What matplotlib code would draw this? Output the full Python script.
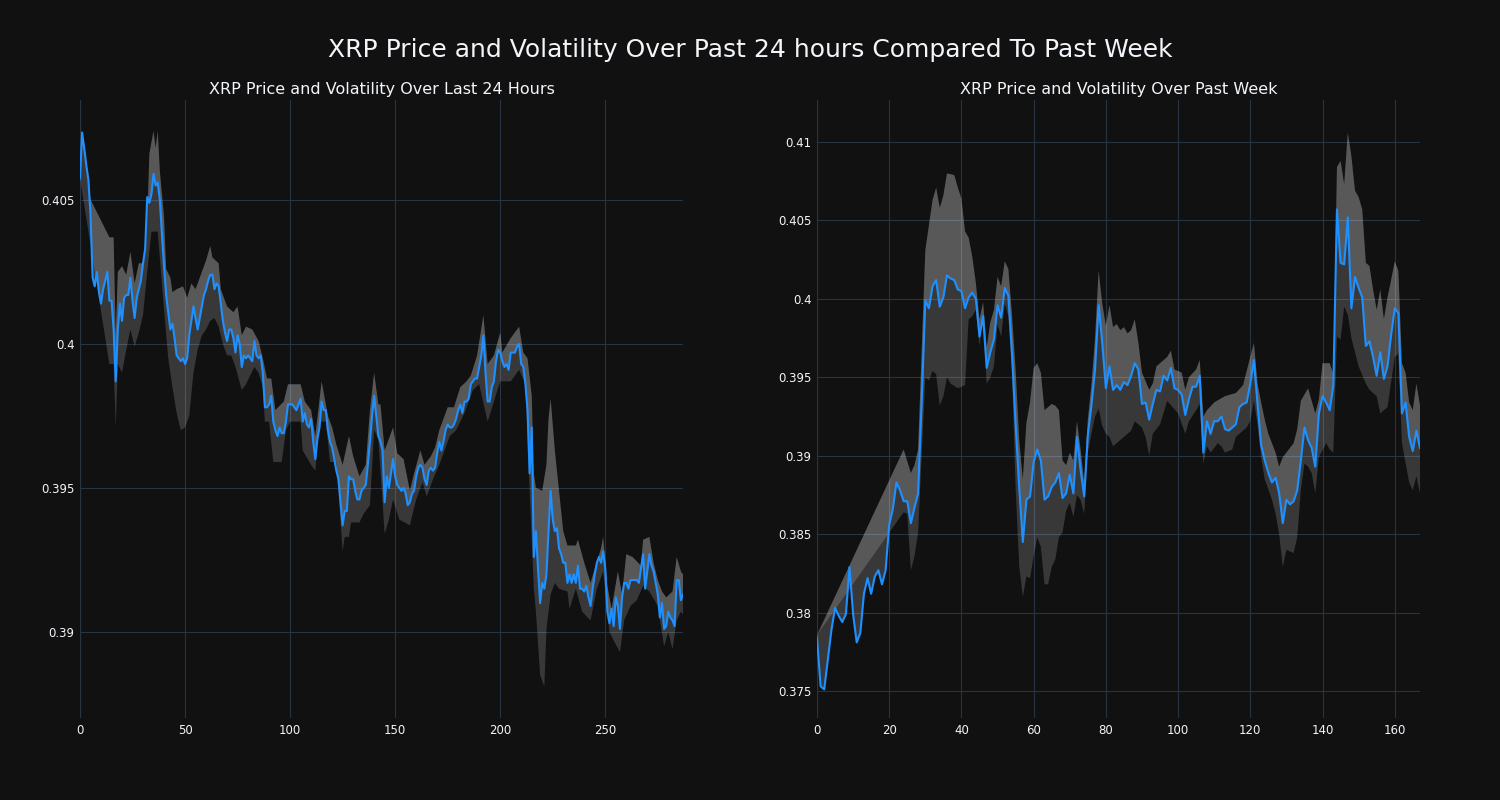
import numpy as np
import matplotlib.pyplot as plt

# ---- last 24 hours (5 min steps) ----
day_price = [
    0.40575, 0.40734, 0.4068, 0.4062, 0.4057, 0.4045, 0.4023, 0.4020, 0.4025, 0.4018,
    0.4014, 0.4019, 0.4022, 0.4025, 0.4015, 0.4015, 0.4005, 0.3987, 0.4005, 0.4014,
    0.4008, 0.4016, 0.4017, 0.4017, 0.4023, 0.4015, 0.4009, 0.4016, 0.4019, 0.4022,
    0.4028, 0.4033, 0.4051, 0.4049, 0.4052, 0.4059, 0.4055, 0.4056, 0.4050, 0.4038,
    0.4027, 0.4017, 0.4011, 0.4005, 0.4007, 0.4002, 0.3996, 0.3995, 0.3994, 0.3995,
    0.3993, 0.3995, 0.4003, 0.4008, 0.4013, 0.4009, 0.4005, 0.4009, 0.4013, 0.4017,
    0.4019, 0.4022, 0.4024, 0.4024, 0.4019, 0.4021, 0.4020, 0.4014, 0.4008, 0.4004,
    0.4001, 0.4005, 0.4005, 0.4002, 0.3997, 0.4003, 0.4000, 0.3992, 0.3996, 0.3995,
    0.3996, 0.3995, 0.3994, 0.4001, 0.3996, 0.3995, 0.3996, 0.3990, 0.3978, 0.3978,
    0.3979, 0.3982, 0.3973, 0.3970, 0.3968, 0.3971, 0.3969, 0.3969, 0.3973, 0.3979,
    0.3979, 0.3979, 0.3978, 0.3977, 0.3979, 0.3981, 0.3973, 0.3976, 0.3972, 0.3971,
    0.3974, 0.3966, 0.3960, 0.3967, 0.3971, 0.3980, 0.3977, 0.3977, 0.3970, 0.3966,
    0.3964, 0.3960, 0.3956, 0.3953, 0.3945, 0.3937, 0.3942, 0.3942, 0.3954, 0.3953,
    0.3953, 0.3949, 0.3946, 0.3946, 0.3949, 0.3950, 0.3951, 0.3958, 0.3966, 0.3975,
    0.3982, 0.3975, 0.3968, 0.3966, 0.3963, 0.3945, 0.3954, 0.3950, 0.3955, 0.3960,
    0.3954, 0.3951, 0.3950, 0.3949, 0.3950, 0.3948, 0.3944, 0.3945, 0.3948, 0.3949,
    0.3954, 0.3957, 0.3958, 0.3957, 0.3953, 0.3951, 0.3956, 0.3957, 0.3956, 0.3957,
    0.3962, 0.3966, 0.3963, 0.3966, 0.3970, 0.3972, 0.3971, 0.3971, 0.3972, 0.3974,
    0.3977, 0.3979, 0.3976, 0.3980, 0.3980, 0.3981, 0.3986, 0.3987, 0.3988, 0.3988,
    0.3992, 0.3996, 0.4003, 0.3990, 0.3980, 0.3980, 0.3985, 0.3987, 0.3994, 0.3998,
    0.3997, 0.3994, 0.3992, 0.3993, 0.3991, 0.3997, 0.3997, 0.3997, 0.3999, 0.4000,
    0.3993, 0.3992, 0.3986, 0.3977, 0.3955, 0.3971, 0.3926, 0.3935, 0.3922, 0.3910,
    0.3917, 0.3915, 0.3920, 0.3935, 0.3949, 0.3939, 0.3935, 0.3936, 0.3929, 0.3927,
    0.3924, 0.3924, 0.3917, 0.3920, 0.3917, 0.3920, 0.3917, 0.3923, 0.3915, 0.3915,
    0.3914, 0.3916, 0.3912, 0.3909, 0.3915, 0.3920, 0.3924, 0.3926, 0.3924, 0.3928,
    0.3922, 0.3907, 0.3903, 0.3908, 0.3902, 0.3912, 0.3909, 0.3901, 0.3912, 0.3917,
    0.3917, 0.3915, 0.3918, 0.3918, 0.3918, 0.3918, 0.3917, 0.3922, 0.3927, 0.3915,
    0.3921, 0.3927, 0.3923, 0.3921, 0.3917, 0.3913, 0.3905, 0.3910, 0.3901, 0.3902,
    0.3907, 0.3905, 0.3904, 0.3902, 0.3918, 0.3918, 0.3911, 0.3913,
]

day_upper_x = [
    0, 14, 16, 17, 18, 20, 22, 24, 26, 28, 30, 32, 33, 35, 36, 37, 38, 40, 41, 43,
    44, 46, 49, 51, 53, 55, 57, 60, 62, 63, 66, 67, 70, 73, 75, 77, 79, 82, 85, 87,
    89, 91, 93, 97, 99, 101, 105, 107, 110, 112, 115, 118, 120, 122, 125, 128, 130, 133, 136, 138,
    140, 142, 143, 145, 149, 151, 154, 157, 159, 162, 164, 167, 169, 171, 174, 175, 178, 181, 184, 186,
    189, 192, 194, 197, 200, 201, 205, 209, 211, 213, 215, 216, 217, 220, 222, 223, 224, 226, 228, 230,
    232, 236, 237, 240, 243, 245, 248, 249, 251, 253, 256, 258, 260, 263, 267, 268, 271, 273, 275, 277,
    279, 282, 284, 286, 287,
]
day_upper = [
    0.40575, 0.4037, 0.4037, 0.4003, 0.4025, 0.4027, 0.4024, 0.4032, 0.4021, 0.4028,
    0.4028, 0.4042, 0.4066, 0.4074, 0.4068, 0.4074, 0.4060, 0.4044, 0.4026, 0.4023,
    0.4018, 0.4019, 0.4020, 0.4016, 0.4021, 0.4019, 0.4023, 0.4029, 0.4034, 0.4030,
    0.4028, 0.4019, 0.4013, 0.4011, 0.4013, 0.4003, 0.4006, 0.4005, 0.4001, 0.3995,
    0.3988, 0.3988, 0.3977, 0.3980, 0.3986, 0.3986, 0.3986, 0.3980, 0.3977, 0.3968,
    0.3987, 0.3975, 0.3971, 0.3965, 0.3958, 0.3968, 0.3961, 0.3954, 0.3958, 0.3977,
    0.3990, 0.3979, 0.3979, 0.3963, 0.3971, 0.3962, 0.3960, 0.3949, 0.3955, 0.3963,
    0.3958, 0.3961, 0.3964, 0.3970, 0.3976, 0.3978, 0.3978, 0.3985, 0.3987, 0.3989,
    0.3996, 0.4010, 0.3993, 0.3996, 0.4004, 0.3997, 0.4002, 0.4006, 0.3997, 0.3995,
    0.3982, 0.3955, 0.3950, 0.3949, 0.3958, 0.3974, 0.3981, 0.3963, 0.3949, 0.3935,
    0.3930, 0.3930, 0.3932, 0.3924, 0.3917, 0.3922, 0.3929, 0.3933, 0.3916, 0.3908,
    0.3921, 0.3913, 0.3927, 0.3926, 0.3923, 0.3932, 0.3933, 0.3924, 0.3918, 0.3914,
    0.3912, 0.3914, 0.3926, 0.3921, 0.3920,
]

day_lower_x = [
    14, 16, 17, 18, 20, 22, 24, 26, 28, 30, 32, 34, 37, 38, 40, 42, 44, 46, 48, 50,
    52, 54, 56, 58, 60, 62, 64, 66, 68, 70, 72, 74, 77, 79, 81, 83, 85, 87, 88, 90,
    92, 96, 98, 100, 105, 106, 110, 112, 114, 117, 119, 122, 125, 126, 128, 129, 133, 135, 138, 140,
    142, 145, 147, 149, 152, 157, 160, 163, 165, 168, 171, 174, 176, 179, 183, 186, 187, 190, 194, 197,
    200, 205, 209, 212, 214, 216, 217, 219, 221, 222, 224, 226, 228, 232, 233, 236, 239, 243, 246, 249,
    252, 254, 257, 259, 262, 265, 268, 271, 275, 278, 280, 282, 284, 286, 287,
]
day_lower = [
    0.3993, 0.3993, 0.3971, 0.3993, 0.3990, 0.3998, 0.4005, 0.3999, 0.4004, 0.4010,
    0.4025, 0.4039, 0.4039, 0.4030, 0.4012, 0.3995, 0.3985, 0.3976, 0.3970, 0.3971,
    0.3975, 0.3990, 0.3998, 0.4003, 0.4005, 0.4008, 0.4009, 0.4006, 0.4000, 0.3996,
    0.3996, 0.3992, 0.3984, 0.3986, 0.3989, 0.3992, 0.3990, 0.3985, 0.3973, 0.3973,
    0.3959, 0.3959, 0.3970, 0.3973, 0.3973, 0.3963, 0.3958, 0.3956, 0.3973, 0.3973,
    0.3959, 0.3959, 0.3928, 0.3933, 0.3933, 0.3938, 0.3938, 0.3941, 0.3944, 0.3970,
    0.3967, 0.3934, 0.3939, 0.3946, 0.3939, 0.3937, 0.3946, 0.3952, 0.3947, 0.3953,
    0.3958, 0.3964, 0.3968, 0.3970, 0.3976, 0.3982, 0.3984, 0.3986, 0.3973, 0.3980,
    0.3987, 0.3987, 0.3991, 0.3986, 0.3949, 0.3915, 0.3907, 0.3885, 0.3881, 0.3901,
    0.3913, 0.3917, 0.3915, 0.3914, 0.3908, 0.3915, 0.3907, 0.3904, 0.3915, 0.3921,
    0.3900, 0.3897, 0.3893, 0.3904, 0.3909, 0.3911, 0.3916, 0.3914, 0.3909, 0.3895,
    0.3900, 0.3894, 0.3904, 0.3907, 0.3906,
]

# ---- past week (hourly) ----
week_price = [
    0.3784, 0.3753, 0.3751, 0.3770, 0.3789, 0.3803, 0.3798, 0.3794, 0.3799, 0.3829,
    0.3799, 0.3781, 0.3787, 0.3812, 0.3822, 0.3812, 0.3823, 0.3827, 0.3818, 0.3827,
    0.3856, 0.3866, 0.3883, 0.3878, 0.3871, 0.3871, 0.3857, 0.3867, 0.3876, 0.3935,
    0.3999, 0.3994, 0.4008, 0.4012, 0.3995, 0.4001, 0.4015, 0.4013, 0.4012, 0.4006,
    0.4005, 0.3994, 0.4001, 0.4004, 0.4000, 0.3976, 0.3989, 0.3956, 0.3966, 0.3974,
    0.3996, 0.3988, 0.4007, 0.4002, 0.3965, 0.3920, 0.3880, 0.3845, 0.3872, 0.3874,
    0.3896, 0.3904, 0.3897, 0.3872, 0.3874, 0.3880, 0.3883, 0.3889, 0.3873, 0.3876,
    0.3888, 0.3876, 0.3912, 0.3891, 0.3874, 0.3913, 0.3932, 0.3955, 0.3996, 0.3972,
    0.3943, 0.3957, 0.3942, 0.3945, 0.3942, 0.3947, 0.3945, 0.3951, 0.3959, 0.3955,
    0.3933, 0.3934, 0.3923, 0.3933, 0.3942, 0.3941, 0.3951, 0.3948, 0.3956, 0.3943,
    0.3942, 0.3939, 0.3926, 0.3936, 0.3944, 0.3944, 0.3951, 0.3902, 0.3922, 0.3914,
    0.3922, 0.3922, 0.3925, 0.3917, 0.3916, 0.3918, 0.3920, 0.3931, 0.3933, 0.3934,
    0.3946, 0.3961, 0.3933, 0.3907, 0.3897, 0.3889, 0.3883, 0.3886, 0.3876, 0.3857,
    0.3872, 0.3869, 0.3871, 0.3878, 0.3897, 0.3918, 0.3910, 0.3905, 0.3893, 0.3927,
    0.3938, 0.3934, 0.3929, 0.3945, 0.4057, 0.4023, 0.4022, 0.4052, 0.3994, 0.4014,
    0.4007, 0.4001, 0.3970, 0.3973, 0.3963, 0.3951, 0.3966, 0.3949, 0.3957, 0.3977,
    0.3994, 0.3991, 0.3927, 0.3934, 0.3912, 0.3903, 0.3916, 0.3905,
]

week_upper_x = [
    0, 24, 26, 27, 28, 30, 32, 33, 34, 35, 36, 38, 39, 40, 41, 42, 43, 44, 45, 46,
    47, 48, 49, 50, 51, 52, 53, 54, 55, 56, 57, 58, 59, 60, 61, 62, 63, 65, 66, 67,
    68, 69, 70, 71, 72, 73, 74, 75, 76, 77, 78, 79, 80, 81, 82, 83, 84, 85, 86, 87,
    88, 89, 90, 92, 93, 94, 96, 97, 98, 99, 100, 101, 102, 103, 105, 106, 107, 108, 110, 113,
    116, 118, 120, 121, 122, 123, 124, 125, 127, 128, 129, 130, 132, 133, 134, 136, 138, 139, 140, 142,
    143, 144, 145, 146, 147, 148, 149, 150, 151, 152, 153, 154, 155, 156, 157, 158, 159, 160, 161, 162,
    163, 164, 165, 166, 167,
]
week_upper = [
    0.37857, 0.3904, 0.3889, 0.3894, 0.3904, 0.4031, 0.4063, 0.4071, 0.4058, 0.4066,
    0.4080, 0.4079, 0.4071, 0.4064, 0.4043, 0.4039, 0.4027, 0.4010, 0.3987, 0.3998,
    0.3969, 0.3985, 0.3993, 0.4014, 0.4008, 0.4024, 0.4019, 0.3990, 0.3955, 0.3910,
    0.3885, 0.3921, 0.3934, 0.3956, 0.3959, 0.3953, 0.3929, 0.3933, 0.3932, 0.3929,
    0.3897, 0.3894, 0.3902, 0.3897, 0.3922, 0.3904, 0.3883, 0.3923, 0.3945, 0.3975,
    0.4018, 0.3997, 0.3983, 0.3996, 0.3982, 0.3984, 0.3980, 0.3982, 0.3978, 0.3980,
    0.3987, 0.3972, 0.3953, 0.3942, 0.3946, 0.3957, 0.3961, 0.3963, 0.3967, 0.3955,
    0.3954, 0.3953, 0.3942, 0.3950, 0.3955, 0.3961, 0.3925, 0.3929, 0.3934, 0.3938,
    0.3940, 0.3945, 0.3963, 0.3972, 0.3946, 0.3934, 0.3923, 0.3914, 0.3902, 0.3893,
    0.3899, 0.3902, 0.3908, 0.3917, 0.3935, 0.3943, 0.3927, 0.3936, 0.3959, 0.3959,
    0.3952, 0.4084, 0.4088, 0.4073, 0.4106, 0.4091, 0.4069, 0.4065, 0.4057, 0.4023,
    0.4021, 0.4006, 0.3993, 0.4006, 0.3987, 0.4001, 0.4012, 0.4024, 0.4018, 0.3959,
    0.3953, 0.3934, 0.3929, 0.3946, 0.3932,
]

week_lower_x = [
    24, 25, 26, 27, 28, 29, 30, 31, 32, 33, 34, 35, 36, 37, 39, 41, 42, 43, 44, 45,
    46, 47, 48, 49, 50, 51, 52, 53, 54, 55, 56, 57, 58, 59, 60, 61, 62, 63, 64, 65,
    66, 67, 68, 69, 70, 71, 72, 73, 74, 75, 76, 77, 78, 79, 80, 81, 82, 83, 85, 87,
    88, 90, 91, 92, 93, 95, 97, 100, 102, 103, 105, 106, 107, 108, 109, 111, 112, 113, 115, 116,
    118, 119, 120, 121, 122, 123, 124, 126, 127, 128, 129, 130, 132, 133, 134, 135, 136, 137, 138, 139,
    141, 142, 143, 144, 145, 146, 147, 148, 150, 152, 153, 155, 156, 158, 160, 161, 162, 164, 165, 166,
    167,
]
week_lower = [
    0.3864, 0.3863, 0.3827, 0.3836, 0.3851, 0.3900, 0.3950, 0.3948, 0.3954, 0.3952,
    0.3932, 0.3938, 0.3950, 0.3946, 0.3943, 0.3945, 0.3987, 0.3989, 0.3993, 0.3970,
    0.3987, 0.3946, 0.3950, 0.3957, 0.3984, 0.3976, 0.3997, 0.3989, 0.3955, 0.3880,
    0.3830, 0.3810, 0.3823, 0.3822, 0.3836, 0.3848, 0.3842, 0.3818, 0.3818, 0.3829,
    0.3834, 0.3848, 0.3851, 0.3865, 0.3870, 0.3861, 0.3875, 0.3872, 0.3863, 0.3902,
    0.3914, 0.3925, 0.3930, 0.3919, 0.3914, 0.3912, 0.3906, 0.3908, 0.3912, 0.3916,
    0.3922, 0.3918, 0.3912, 0.3900, 0.3914, 0.3920, 0.3935, 0.3927, 0.3914, 0.3922,
    0.3929, 0.3933, 0.3895, 0.3906, 0.3902, 0.3908, 0.3906, 0.3902, 0.3904, 0.3912,
    0.3916, 0.3918, 0.3922, 0.3935, 0.3920, 0.3899, 0.3885, 0.3872, 0.3863, 0.3850,
    0.3829, 0.3840, 0.3838, 0.3848, 0.3878, 0.3895, 0.3893, 0.3889, 0.3876, 0.3899,
    0.3908, 0.3904, 0.3902, 0.3976, 0.3974, 0.3995, 0.3990, 0.3975, 0.3957, 0.3946,
    0.3942, 0.3938, 0.3927, 0.3931, 0.3963, 0.3965, 0.3908, 0.3883, 0.3878, 0.3887,
    0.3876,
]

day_ticks = [0.39, 0.395, 0.4, 0.405]
day_ticklabels = ['0.39', '0.395', '0.4', '0.405']
week_ticks = [0.375, 0.38, 0.385, 0.39, 0.395, 0.4, 0.405, 0.41]
week_ticklabels = ['0.375', '0.38', '0.385', '0.39', '0.395', '0.4', '0.405', '0.41']

BG = '#111111'
GRID = '#283442'
TEXT = '#f2f5fa'
LINE = '#1e90ff'


def draw_panel(ax, price, up_x, up, lo_x, lo, title, xticks, yticks, yticklabels, ylim):
    x = np.arange(len(price))
    price = np.array(price)
    # band between lower and upper, then a second layer between price and upper
    ax.fill(np.concatenate([up_x, lo_x[::-1]]), np.concatenate([up, lo[::-1]]),
            color='white', alpha=0.165, lw=0, zorder=2)
    ax.fill(np.concatenate([up_x, x[::-1]]), np.concatenate([up, price[::-1]]),
            color='white', alpha=0.165, lw=0, zorder=2)
    ax.plot(x, price, color=LINE, lw=1.5, zorder=3)

    ax.set_facecolor(BG)
    ax.set_xlim(0, len(price) - 1)
    ax.set_ylim(*ylim)
    ax.set_xticks(xticks)
    ax.set_yticks(yticks)
    ax.set_yticklabels(yticklabels)
    ax.grid(True, color=GRID, lw=0.8, zorder=0)
    ax.axvline(0, color=GRID, lw=1.6, zorder=1)
    for s in ax.spines.values():
        s.set_visible(False)
    ax.tick_params(length=0, colors=TEXT, labelsize=8.5, pad=4)
    ax.set_axisbelow(True)
    ax.set_title(title, color=TEXT, fontsize=11.5, pad=4)


fig = plt.figure(figsize=(15, 8), dpi=100, facecolor=BG)
ax1 = fig.add_axes([80 / 1500, 82 / 800, 603 / 1500, 618 / 800])
ax2 = fig.add_axes([817 / 1500, 82 / 800, 603 / 1500, 618 / 800])

draw_panel(ax1, day_price, np.array(day_upper_x), np.array(day_upper),
           np.array(day_lower_x), np.array(day_lower),
           'XRP Price and Volatility Over Last 24 Hours',
           [0, 50, 100, 150, 200, 250], day_ticks, day_ticklabels, (0.38701, 0.40847))
draw_panel(ax2, week_price, np.array(week_upper_x), np.array(week_upper),
           np.array(week_lower_x), np.array(week_lower),
           'XRP Price and Volatility Over Past Week',
           [0, 20, 40, 60, 80, 100, 120, 140, 160], week_ticks, week_ticklabels, (0.37328, 0.41268))

fig.text(0.5, 1 - 50 / 800, 'XRP Price and Volatility Over Past 24 hours Compared To Past Week',
         ha='center', va='center', color=TEXT, fontsize=18)

fig.savefig('out.png', dpi=100, facecolor=BG)
